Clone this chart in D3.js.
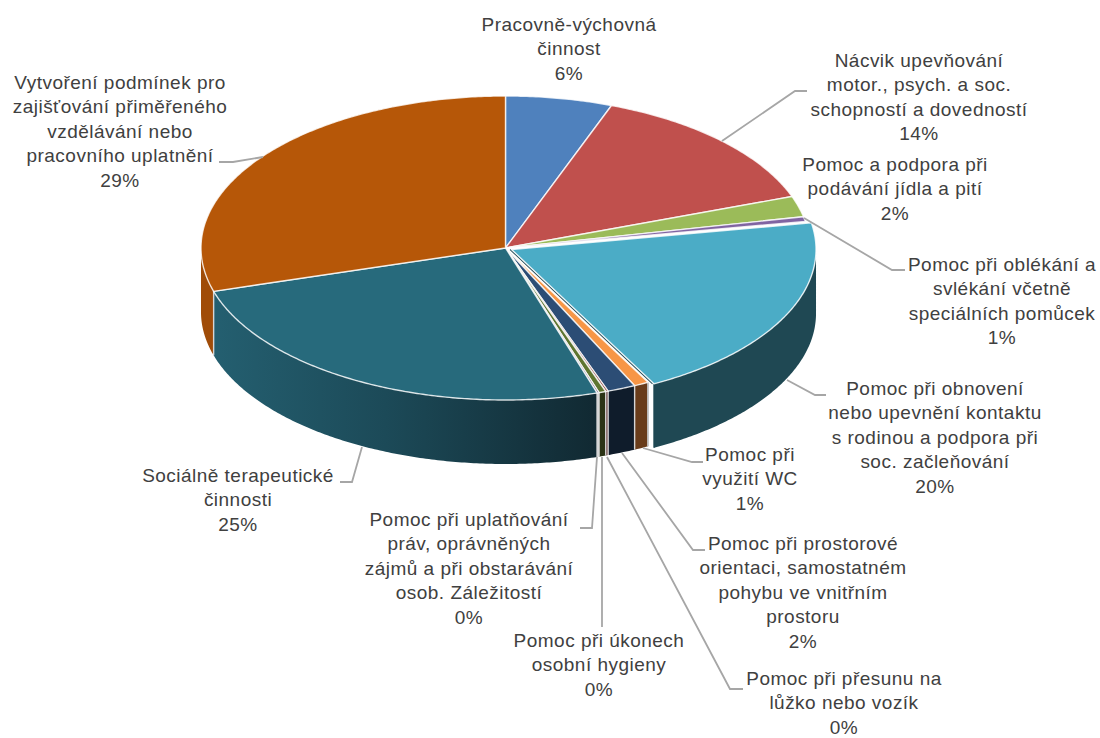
<!DOCTYPE html>
<html>
<head>
<meta charset="utf-8">
<title>Pie chart</title>
<style>
html, body { margin: 0; padding: 0; background: #fff; }
svg { display: block; }
text { font-family: "Liberation Sans", sans-serif; font-size: 19px; letter-spacing: 0.48px; fill: #404040; text-anchor: middle; }
</style>
</head>
<body>
<svg width="1100" height="738"></svg>
<script src="https://cdnjs.cloudflare.com/ajax/libs/d3/7.8.5/d3.min.js"></script>
<script>
var categories = [
  ["Pracovně-výchovná", "činnost"],
  ["Nácvik upevňování", "motor., psych. a soc.", "schopností a dovedností"],
  ["Pomoc a podpora při", "podávání jídla a pití"],
  ["Pomoc při oblékání a", "svlékání včetně", "speciálních pomůcek"],
  ["Pomoc při obnovení", "nebo upevnění kontaktu", "s rodinou a podpora při", "soc. začleňování"],
  ["Pomoc při", "využití WC"],
  ["Pomoc při prostorové", "orientaci, samostatném", "pohybu ve vnitřním", "prostoru"],
  ["Pomoc při přesunu na", "lůžko nebo vozík"],
  ["Pomoc při úkonech", "osobní hygieny"],
  ["Pomoc při uplatňování", "práv, oprávněných", "zájmů a při obstarávání", "osob. Záležitostí"],
  ["Sociálně terapeutické", "činnosti"],
  ["Vytvoření podmínek pro", "zajišťování přiměřeného", "vzdělávání nebo", "pracovního uplatnění"]
];
var values = [5.66, 13.84, 2.2, 0.5, 20.05, 0.78, 1.5, 0.13, 0.37, 0.11, 25.26, 29.6];
var percentLabels = ["6%", "14%", "2%", "1%", "20%", "1%", "2%", "0%", "0%", "0%", "25%", "29%"];

var topColors = ["#4f81bd", "#c0504d", "#9bbb59", "#8064a2", "#4bacc6", "#f79646", "#2c4d75", "#772c2a", "#5f7530", "#4d3b62", "#276a7c", "#b65708"];
var wallColors = ["#2f4d71", "#73302e", "#5d7035", "#4c3c61", "#1f4853", "#693c1a", "#0f1c2b", "#5a2a28", "#2b3315", "#d9d9d9", "url(#socWall)", "#a04c08"];

// label centre x, first line centre y, then the leader line
var labelLayout = [
  { x: 569, y: 25, leader: null },
  { x: 919, y: 61, leader: [[722, 141], [795, 91], [807, 91]] },
  { x: 895, y: 165, leader: null },
  { x: 1002, y: 265, leader: [[804, 218], [892, 270], [905, 270]] },
  { x: 935, y: 389, leader: [[787, 380], [815, 395], [826, 395]] },
  { x: 750, y: 455, leader: [[643, 448], [692, 462], [703, 462]] },
  { x: 803, y: 544, leader: [[622, 453], [693, 550], [705, 550]] },
  { x: 844, y: 679, leader: [[607, 457], [730, 689], [743, 689]] },
  { x: 599, y: 641, leader: [[602, 457], [602, 627]] },
  { x: 469, y: 520, leader: [[597, 457], [592, 528], [580, 528]] },
  { x: 238, y: 476, leader: [[362, 447], [352, 482], [340, 482]] },
  { x: 120, y: 83, leader: [[263, 157], [233, 162], [219, 162]] }
];

var lineHeight = 24.4;
var depth = 64;
var explodedIndex = 4;   // this slice sits a bit out of the pie
var explodeBy = 0.022;

var sx = d3.scaleLinear().domain([-1, 1]).range([201, 810]);
var sy = d3.scaleLinear().domain([-1, 1]).range([400, 96]);

function pt(a, dz) {
  return [sx(Math.sin(a)), sy(Math.cos(a)) + (dz || 0)];
}

function rim(a0, a1, dz) {
  var out = d3.range(a0, a1, 0.01).map(function(a) { return pt(a, dz); });
  out.push(pt(a1, dz));
  return out;
}

var line = d3.line();
var centre = [sx(0), sy(0)];

var pie = d3.pie().sort(null).value(function(d) { return d; });
var arcs = pie(values);

var svg = d3.select("svg");

var grad = svg.append("defs").append("linearGradient")
  .attr("id", "socWall")
  .attr("gradientUnits", "userSpaceOnUse")
  .attr("x1", 213).attr("x2", 597).attr("y1", 0).attr("y2", 0);
grad.append("stop").attr("offset", "0%").attr("stop-color", "#245f70");
grad.append("stop").attr("offset", "45%").attr("stop-color", "#1c4a58");
grad.append("stop").attr("offset", "100%").attr("stop-color", "#112932");

// side walls, only the front half of the rim shows
var lo = Math.PI / 2, hi = Math.PI * 3 / 2;

function wallPath(d) {
  var a0 = Math.max(d.startAngle, lo), a1 = Math.min(d.endAngle, hi);
  return line(rim(a0, a1, 0).concat(rim(a0, a1, depth).reverse())) + "Z";
}

function topPath(d) {
  return line([centre].concat(rim(d.startAngle, d.endAngle, 0))) + "Z";
}

function drawWall(g, d) {
  g.append("path").attr("d", wallPath(d)).attr("fill", wallColors[d.index]);
}

function drawEdge(g, a, colour) {
  g.append("line")
    .attr("x1", pt(a, 0)[0]).attr("y1", pt(a, 0)[1])
    .attr("x2", pt(a, depth)[0]).attr("y2", pt(a, depth)[1])
    .attr("stroke", colour)
    .attr("stroke-width", 1.4);
}

function drawTop(g, d) {
  g.append("path")
    .attr("d", topPath(d))
    .attr("fill", topColors[d.index])
    .attr("stroke", "#fff")
    .attr("stroke-opacity", 0.8)
    .attr("stroke-width", 1.4)
    .attr("stroke-linejoin", "round");
}

var pieGroup = svg.append("g");
var rest = arcs.filter(function(d) { return d.index !== explodedIndex; });
var front = rest.filter(function(d) { return d.endAngle > lo && d.startAngle < hi; });

front.forEach(function(d) { drawWall(pieGroup, d); });
front.forEach(function(d) {
  if (d.startAngle > lo) drawEdge(pieGroup, d.startAngle, "#d6d6d6");
  if (d.index === explodedIndex + 1) drawEdge(pieGroup, d.startAngle, "#bdbdbd");
});
rest.forEach(function(d) { drawTop(pieGroup, d); });

// the exploded slice, moved along its middle angle
var ex = arcs[explodedIndex];
var mid = (ex.startAngle + ex.endAngle) / 2;
var exX = (pt(mid)[0] - centre[0]) * explodeBy;
var exY = (pt(mid)[1] - centre[1]) * explodeBy;
var exGroup = svg.append("g").attr("transform", "translate(" + exX + "," + exY + ")");

drawWall(exGroup, ex);
drawEdge(exGroup, ex.endAngle, "#1f4853");
exGroup.append("path")
  .attr("d", line([[centre[0] - 1.4, centre[1]], [pt(ex.endAngle)[0] - 1.4, pt(ex.endAngle)[1]]]))
  .attr("stroke", "#1f4853")
  .attr("stroke-width", 1.2);
drawTop(exGroup, ex);

// leader lines
svg.append("g").selectAll("path").data(labelLayout.filter(function(d) { return d.leader; })).join("path")
  .attr("d", function(d) { return line(d.leader); })
  .attr("fill", "none")
  .attr("stroke", "#a6a6a6")
  .attr("stroke-width", 1.8);

// labels
var labels = svg.append("g").selectAll("text").data(categories).join("text")
  .attr("transform", function(d, i) { return "translate(" + labelLayout[i].x + "," + (labelLayout[i].y + 6) + ")"; });

labels.selectAll("tspan")
  .data(function(d, i) { return d.concat(percentLabels[i]); })
  .join("tspan")
  .attr("x", 0)
  .attr("y", function(d, i) { return i * lineHeight; })
  .text(function(d) { return d; });
</script>
</body>
</html>
